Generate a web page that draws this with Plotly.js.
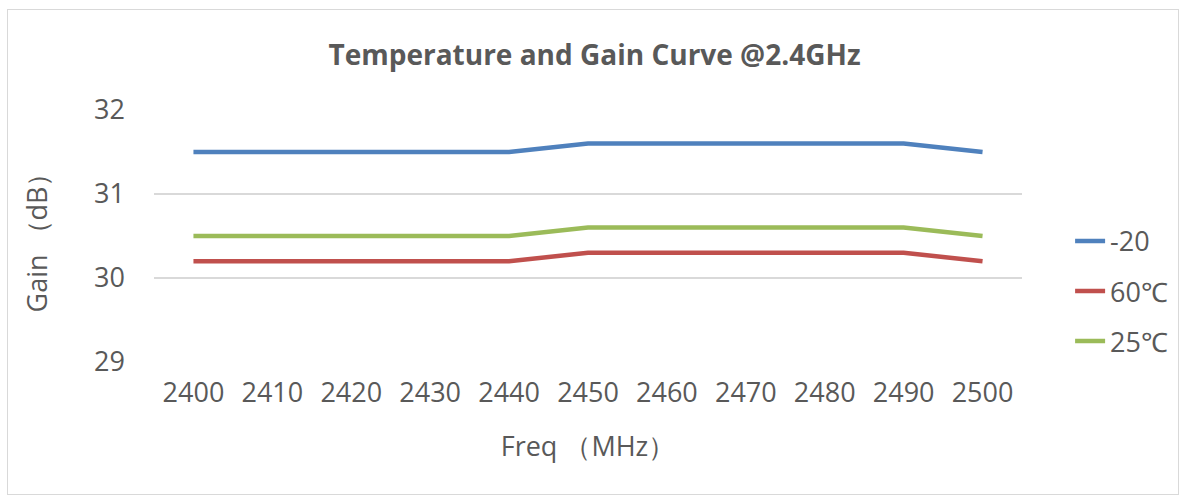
<!DOCTYPE html>
<html>
<head>
<meta charset="utf-8">
<script src="https://cdn.plot.ly/plotly-3.0.1.min.js"></script>
<style>
html,body{margin:0;padding:0;background:#fff;}
#frame{position:absolute;left:7px;top:9px;width:1172px;height:486px;border:1px solid #d9d9d9;box-sizing:border-box;}
#chart{position:absolute;left:0;top:0;width:1189px;height:498px;}
</style>
</head>
<body>
<div id="frame"></div>
<div id="chart"></div>
<script>
const categories = ["2400","2410","2420","2430","2440","2450","2460","2470","2480","2490","2500"];
const seriesNames = ["-20","60℃","25℃"];
const minus20 = [31.5,31.5,31.5,31.5,31.5,31.6,31.6,31.6,31.6,31.6,31.5];
const t60 = [30.2,30.2,30.2,30.2,30.2,30.3,30.3,30.3,30.3,30.3,30.2];
const t25 = [30.5,30.5,30.5,30.5,30.5,30.6,30.6,30.6,30.6,30.6,30.5];
const yTicks = [29,30,31,32];
const colors = ["#4F81BD","#C0504D","#9BBB59"];

const font = "'Open Sans', 'Noto Sans', sans-serif";
const txt = "#595959";
const data = [minus20, t60, t25].map((v,i)=>({
  x: categories, y: v, name: seriesNames[i], type:"scatter", mode:"lines",
  legendgroup:"g"+i,
  line:{color:colors[i], width:4.5}
}));
const layout = {
  width:1189, height:498,
  paper_bgcolor:"rgba(0,0,0,0)", plot_bgcolor:"rgba(0,0,0,0)",
  margin:{l:154, r:167, t:110, b:136, autoexpand:false},
  font:{family:font, color:txt, size:27},
  title:{text:"<b>Temperature and Gain Curve @2.4GHz</b>", x:0.5, xanchor:"center", y:0.89, yanchor:"middle", font:{family:font, size:28, color:txt}},
  xaxis:{type:"category", range:[-0.5,10.5], showgrid:false, zeroline:false, showline:false, ticks:"", automargin:false,
    tickfont:{size:27, color:txt}, ticklabelstandoff:12,
    title:{text:"Freq （MHz）", font:{size:27, color:txt}, standoff:28}},
  yaxis:{range:[29,32], tickvals:yTicks, showgrid:true, gridcolor:"#d9d9d9", gridwidth:1.5, zeroline:false, showline:false, ticks:"", automargin:false,
    tickfont:{size:27, color:txt}, ticklabelstandoff:28,
    title:{text:"Gain （dB）", font:{size:27, color:txt}, standoff:38}},
  legend:{xref:"container", yref:"container", x:0.9, y:0.415, xanchor:"left", yanchor:"middle", font:{size:27, color:txt}, tracegroupgap:12, bgcolor:"rgba(0,0,0,0)"},
  showlegend:true
};
Plotly.newPlot("chart", data, layout, {displayModeBar:false, staticPlot:true});
</script>
</body>
</html>
